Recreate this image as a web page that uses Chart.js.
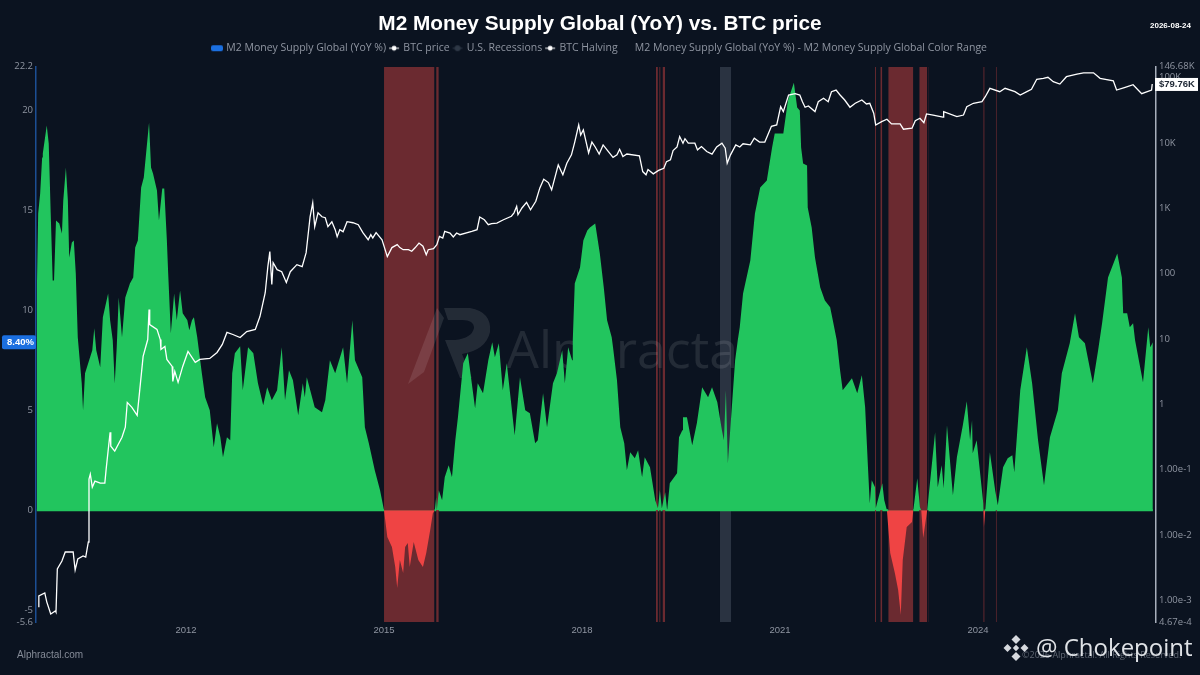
<!DOCTYPE html>
<html lang="en">
<head>
<meta charset="UTF-8">
<title>M2 Money Supply Global (YoY) vs. BTC price</title>
<style>
  html, body { margin: 0; padding: 0; background: #0b1320; }
  canvas { display: block; }
</style>
<script src="https://cdn.jsdelivr.net/npm/chart.js@4"></script>
</head>
<body>
<canvas id="chart" width="1200" height="675"></canvas>
<script>
// M2 YoY % (decimal year, value)
const m2Years = [
  2009.74,2009.76,2009.79,2009.82,2009.83,2009.89,2009.92,2009.95,2009.98,2010.00,
  2010.03,2010.08,2010.12,2010.14,2010.18,2010.21,2010.23,2010.27,2010.30,2010.33,
  2010.36,2010.42,2010.44,2010.47,2010.58,2010.61,2010.64,2010.70,2010.74,2010.82,
  2010.85,2010.89,2010.92,2010.95,2010.98,2011.03,2011.08,2011.15,2011.20,2011.23,
  2011.27,2011.32,2011.36,2011.44,2011.47,2011.50,2011.56,2011.59,2011.64,2011.67,
  2011.71,2011.73,2011.77,2011.82,2011.86,2011.91,2011.95,2012.02,2012.05,2012.09,
  2012.12,2012.17,2012.24,2012.29,2012.36,2012.42,2012.47,2012.52,2012.56,2012.62,
  2012.67,2012.70,2012.74,2012.82,2012.86,2012.94,2013.02,2013.09,2013.17,2013.23,
  2013.30,2013.38,2013.45,2013.50,2013.56,2013.62,2013.70,2013.77,2013.80,2013.83,
  2013.95,2014.06,2014.11,2014.18,2014.26,2014.38,2014.44,2014.52,2014.56,2014.67,
  2014.71,2014.77,2014.86,2014.94,2015.00,2015.05,2015.12,2015.17,2015.20,2015.24,
  2015.29,2015.32,2015.36,2015.39,2015.45,2015.52,2015.59,2015.64,2015.70,2015.74,
  2015.77,2015.79,2015.80,2015.83,2015.88,2015.92,2015.98,2016.03,2016.08,2016.12,
  2016.20,2016.27,2016.38,2016.42,2016.50,2016.58,2016.64,2016.68,2016.74,2016.80,
  2016.86,2016.98,2017.06,2017.14,2017.21,2017.29,2017.33,2017.41,2017.47,2017.56,
  2017.62,2017.70,2017.74,2017.79,2017.85,2017.86,2017.89,2017.97,2018.02,2018.08,
  2018.12,2018.20,2018.27,2018.33,2018.38,2018.45,2018.47,2018.53,2018.58,2018.64,
  2018.68,2018.73,2018.80,2018.85,2018.91,2018.95,2019.03,2019.11,2019.15,2019.18,
  2019.21,2019.26,2019.29,2019.33,2019.44,2019.47,2019.52,2019.53,2019.59,2019.67,
  2019.74,2019.82,2019.91,2019.97,2020.05,2020.12,2020.15,2020.18,2020.21,2020.27,
  2020.32,2020.36,2020.39,2020.44,2020.55,2020.62,2020.70,2020.80,2020.88,2020.92,
  2021.05,2021.12,2021.21,2021.26,2021.30,2021.32,2021.35,2021.41,2021.42,2021.48,
  2021.53,2021.61,2021.68,2021.76,2021.80,2021.86,2021.91,2021.95,2022.09,2022.17,
  2022.24,2022.29,2022.33,2022.36,2022.39,2022.44,2022.45,2022.55,2022.58,2022.62,
  2022.67,2022.74,2022.79,2022.83,2022.86,2022.92,2023.00,2023.02,2023.08,2023.12,
  2023.14,2023.17,2023.23,2023.35,2023.39,2023.45,2023.48,2023.53,2023.62,2023.68,
  2023.77,2023.83,2023.88,2023.91,2023.92,2023.98,2024.08,2024.09,2024.11,2024.18,
  2024.26,2024.30,2024.38,2024.45,2024.52,2024.55,2024.64,2024.74,2024.82,2024.91,
  2025.00,2025.09,2025.21,2025.27,2025.39,2025.47,2025.53,2025.62,2025.74,2025.82,
  2025.88,2025.97,2026.11,2026.18,2026.20,2026.26,2026.30,2026.35,2026.38,2026.50,
  2026.58,2026.61,2026.65
];
const m2Values = [
  11.0,14.85,15.85,17.65,17.85,19.25,18.35,14.85,11.5,11.5,
  14.5,14.35,13.85,15.5,17.15,15.5,12.65,13.4,13.5,11.85,
  8.65,6.35,5.0,6.85,8.0,9.1,8.0,7.15,9.65,10.85,
  9.5,8.5,6.35,8.15,10.65,8.65,10.65,11.35,11.65,13.15,
  13.5,16.15,16.65,19.4,17.15,16.85,16.0,14.5,16.1,16.1,
  13.5,11.85,8.85,10.85,9.5,11.0,9.85,9.5,9.0,9.5,
  9.65,8.65,6.85,5.65,5.0,3.15,4.35,3.65,2.65,3.65,
  3.5,6.85,7.85,8.2,6.0,8.15,7.85,6.35,5.25,6.15,
  5.5,6.0,8.15,5.5,7.0,6.5,4.75,6.35,5.65,6.65,
  5.15,4.9,5.5,7.5,6.85,8.15,6.35,9.5,7.5,6.65,
  4.15,3.35,2.0,1.0,0,-1.35,-1.85,-2.85,-3.9,-2.5,
  -3.15,-1.85,-1.65,-2.85,-1.6,-2.5,-2.85,-2.15,-1.0,-0.15,
  0,0.65,0,1.0,0.5,1.65,2.25,1.65,3.5,4.65,
  7.35,7.85,5.1,6.35,5.85,7.5,8.4,7.65,8.35,6.0,
  7.35,3.75,6.65,5.0,4.85,3.35,3.5,5.85,4.15,6.35,
  6.85,8.0,6.35,8.15,7.5,8.5,11.35,12.15,13.5,14.0,
  14.15,14.35,12.85,11.15,9.5,8.65,8.15,6.5,4.15,3.35,
  2.0,2.9,2.6,3.0,1.65,2.65,2.15,0.5,0.1,1.0,
  0.1,0.9,0,1.35,1.85,3.65,4.0,4.65,4.65,3.25,
  4.35,6.15,5.65,6.15,5.4,4.0,3.5,6.0,2.35,5.15,
  7.5,8.5,9.15,10.85,12.5,14.85,16.15,16.5,18.15,18.85,
  18.85,20.5,21.4,20.15,20.0,18.15,17.35,17.25,15.15,14.15,
  12.65,11.15,10.5,10.15,9.5,8.5,7.0,6.0,6.6,5.85,
  6.75,5.15,2.35,0.35,1.5,1.15,0.1,1.35,0.5,0,
  -2.15,-3.15,-4.0,-5.25,-2.5,-0.85,-0.6,0,1.6,0.15,
  0,-1.4,0,3.9,1.15,2.25,1.1,4.25,0.75,2.65,
  4.25,5.45,3.5,4.5,2.85,3.5,0.35,-0.85,0,2.9,
  1.0,0.25,2.15,2.6,2.75,1.9,6.0,8.15,6.35,3.5,
  1.25,3.65,5.0,6.85,8.35,9.85,8.65,8.35,6.35,8.0,
  9.35,11.65,12.85,11.65,9.85,9.85,9.15,9.35,8.5,6.4,
  9.15,8.15,8.4
];

// BTC price in USD
const btcYears = [
  2009.76,2009.77,2009.86,2009.89,2009.95,2010.02,2010.03,2010.05,2010.12,2010.17,
  2010.29,2010.32,2010.36,2010.44,2010.48,2010.52,2010.53,2010.55,2010.58,2010.62,
  2010.70,2010.77,2010.79,2010.85,2010.86,2010.92,2011.03,2011.08,2011.11,2011.18,
  2011.26,2011.30,2011.35,2011.42,2011.44,2011.45,2011.56,2011.61,2011.62,2011.68,
  2011.71,2011.79,2011.80,2011.83,2011.88,2011.95,2012.03,2012.14,2012.21,2012.36,
  2012.47,2012.55,2012.62,2012.71,2012.82,2012.92,2013.05,2013.12,2013.20,2013.24,
  2013.27,2013.30,2013.32,2013.38,2013.45,2013.52,2013.58,2013.68,2013.76,2013.82,
  2013.88,2013.92,2013.95,2014.00,2014.06,2014.11,2014.15,2014.21,2014.26,2014.29,
  2014.33,2014.38,2014.44,2014.53,2014.61,2014.68,2014.76,2014.80,2014.83,2014.88,
  2014.97,2015.05,2015.12,2015.20,2015.24,2015.29,2015.37,2015.42,2015.47,2015.53,
  2015.59,2015.64,2015.67,2015.75,2015.80,2015.84,2015.89,2015.92,2016.00,2016.05,
  2016.10,2016.15,2016.33,2016.41,2016.45,2016.52,2016.58,2016.63,2016.71,2016.81,
  2016.93,2016.97,2017.01,2017.03,2017.09,2017.16,2017.22,2017.30,2017.36,2017.42,
  2017.49,2017.54,2017.58,2017.64,2017.71,2017.77,2017.84,2017.89,2017.95,2017.98,
  2018.02,2018.10,2018.15,2018.20,2018.26,2018.32,2018.40,2018.47,2018.53,2018.57,
  2018.62,2018.68,2018.87,2018.92,2018.97,2019.00,2019.08,2019.16,2019.24,2019.28,
  2019.34,2019.38,2019.44,2019.48,2019.53,2019.56,2019.61,2019.71,2019.75,2019.81,
  2019.89,2019.97,2020.04,2020.12,2020.17,2020.20,2020.25,2020.33,2020.39,2020.44,
  2020.55,2020.61,2020.69,2020.77,2020.87,2020.95,2021.01,2021.05,2021.13,2021.23,
  2021.30,2021.34,2021.38,2021.43,2021.53,2021.58,2021.66,2021.73,2021.78,2021.85,
  2021.91,2021.98,2022.06,2022.14,2022.24,2022.31,2022.36,2022.42,2022.45,2022.54,
  2022.62,2022.69,2022.82,2022.87,2023.00,2023.05,2023.12,2023.18,2023.22,2023.32,
  2023.47,2023.48,2023.68,2023.78,2023.83,2023.93,2024.06,2024.11,2024.18,2024.33,
  2024.41,2024.56,2024.64,2024.74,2024.81,2024.89,2024.99,2025.06,2025.14,2025.24,
  2025.34,2025.50,2025.60,2025.75,2025.85,2026.05,2026.10,2026.23,2026.35,2026.48,
  2026.63,2026.64
];
const btcPrices = [
  0.0008,0.00117,0.0013,0.00095,0.00062,0.00069,0.00066,0.00303,0.00401,0.0055,
  0.0055,0.00292,0.0043,0.00478,0.00461,0.00782,0.0716,0.0853,0.0541,0.0667,
  0.0622,0.0622,0.102,0.374,0.229,0.192,0.313,0.446,1.07,0.9,
  0.68,1.69,5.4,9.8,28.2,16.6,14,9.8,6.9,7.7,
  4.86,3.8,2.24,3.19,2.17,3.8,6.44,4.38,4.86,5.04,
  6.22,8.24,12.6,11.7,10.5,13,14,22,51,128,
  217,68,147,115,107,73,107,137,128,209,
  741,1210,522,854,741,716,522,622,470,367,
  470,438,622,600,560,423,330,394,351,423,
  330,182,250,277,250,232,232,220,248,293,
  262,195,232,240,277,372,351,443,418,363,
  418,394,443,470,734,667,560,580,594,667,
  755,850,1070,796,1010,1230,948,1280,2030,2780,
  2470,1910,2720,4610,3250,4880,6560,10300,18800,13200,
  15800,7000,10300,8650,6750,9320,7370,6020,6560,8000,
  6200,6750,6330,3640,3250,3900,3360,3800,4080,5170,
  5500,7640,8650,12500,9900,11600,9900,9900,7820,8800,
  7370,6750,8650,9900,8300,4880,6560,9320,8650,9700,
  9320,11800,10300,10300,17900,18800,35800,30100,54000,56600,
  54000,42700,35100,36700,30100,42700,48100,42700,60700,64400,
  54000,45300,35100,40400,45300,39400,40400,28400,18800,21100,
  23000,19500,19500,16200,16800,21900,23800,20400,27700,26700,
  24700,30100,25200,26700,35800,40400,42700,50900,68400,60700,
  68400,60700,54000,60700,66100,94000,97300,101000,86300,79400,
  103000,113000,118000,118000,97300,89300,64400,70800,77600,56600,
  64400,79760
];

// periods shaded on the chart
const redStarts = [2015.00,2015.79,2019.12,2019.17,2019.22,2022.44,2022.52,2022.64,2023.11,2023.24,2024.08,2024.27];
const redEnds   = [2015.765,2015.83,2019.15,2019.19,2019.26,2022.455,2022.55,2023.02,2023.23,2023.25,2024.10,2024.285];
const recessionStarts = [2020.09];
const recessionEnds   = [2020.26];

const xTicks = [2012, 2015, 2018, 2021, 2024];
const leftTicks = [22.2, 20, 15, 10, 5, 0, -5, -5.6];
const rightTicks = [146680, 100000, 10000, 1000, 100, 10, 1, 0.1, 0.01, 0.001, 0.000467];
const rightLabels = ['146.68K','100K','10K','1K','100','10','1','1.00e-1','1.00e-2','1.00e-3','4.67e-4'];
const legendNames = ['M2 Money Supply Global (YoY %)', 'BTC price', 'U.S. Recessions', 'BTC Halving', 'M2 Money Supply Global (YoY %) - M2 Money Supply Global Color Range'];

const lastM2 = 8.40;
const lastBtc = 79760;

const LEFT_MAX = 22.2, LEFT_MIN = -5.6;
const GREEN = '#22c55e', RED = '#ef4444', BAND_RED = '#6b2a30', BAND_GREY = '#2a3341';
const TEXT = '#8f95a1';

function pairs(xs, ys) {
  return xs.map((x, i) => ({ x: x, y: ys[i] }));
}
// flat top segments with a gap between them, filled down to the axis bottom
function bandPoints(starts, ends) {
  const out = [];
  starts.forEach((s, i) => {
    out.push({ x: s, y: LEFT_MAX }, { x: ends[i], y: LEFT_MAX }, { x: ends[i] + 0.001, y: null });
  });
  return out;
}
// zero line of the area, broken where the red periods sit
function zeroLine() {
  const out = [{ x: m2Years[0], y: 0 }];
  redStarts.forEach((s, i) => {
    out.push({ x: s, y: 0 }, { x: s + 0.001, y: null }, { x: redEnds[i], y: 0 });
  });
  out.push({ x: m2Years[m2Years.length - 1], y: 0 });
  return out;
}

function glyph(draw) {
  const c = document.createElement('canvas');
  c.width = 12; c.height = 8;
  draw(c.getContext('2d'));
  return c;
}
const lineDot = g => {
  g.strokeStyle = '#fff'; g.fillStyle = '#fff';
  g.beginPath(); g.moveTo(1, 4); g.lineTo(11, 4); g.stroke();
  g.beginPath(); g.arc(6, 4, 2.4, 0, 7); g.fill();
};
const glyphs = [
  glyph(g => { g.fillStyle = '#1b6fe0'; g.beginPath(); g.roundRect(0, 1, 12, 6, 2); g.fill(); }),
  glyph(lineDot),
  glyph(g => { g.fillStyle = '#2f3846'; g.beginPath(); g.arc(6, 4, 3, 0, 7); g.fill(); g.fillRect(1, 3.5, 10, 1); }),
  glyph(lineDot),
  glyph(() => {})
];

function drawWatermark(ctx) {
  ctx.save();
  ctx.fillStyle = 'rgba(255,255,255,0.10)';
  ctx.font = '52px "Open Sans"';
  ctx.textAlign = 'left';
  ctx.textBaseline = 'alphabetic';
  ctx.fillText('Alphractal', 506, 368);
  // A and P of the logo
  ctx.beginPath();
  ctx.moveTo(408, 384); ctx.lineTo(437, 308); ctx.lineTo(444, 318); ctx.lineTo(424, 372);
  ctx.closePath(); ctx.fill();
  ctx.beginPath();
  ctx.moveTo(444, 308); ctx.lineTo(470, 308);
  ctx.quadraticCurveTo(492, 312, 490, 332); ctx.quadraticCurveTo(486, 350, 462, 354);
  ctx.lineTo(472, 378); ctx.lineTo(460, 378); ctx.lineTo(445, 340); ctx.lineTo(455, 340);
  ctx.quadraticCurveTo(472, 338, 474, 328); ctx.quadraticCurveTo(474, 320, 462, 320);
  ctx.lineTo(448, 320);
  ctx.closePath(); ctx.fill();
  ctx.restore();
}

const overlay = {
  id: 'overlay',
  // the watermark sits above the shaded periods and below the area
  afterDatasetDraw(chart, args) {
    if (args.index === 3) drawWatermark(chart.ctx);
  },
  afterDraw(chart) {
    const ctx = chart.ctx;
    const yL = chart.scales.y.getPixelForValue(lastM2);
    const yR = chart.scales.y1.getPixelForValue(lastBtc);
    ctx.save();
    ctx.textBaseline = 'middle';

    // current value flags
    ctx.fillStyle = '#1b6fe0';
    ctx.beginPath(); ctx.roundRect(2, yL - 7, 34, 14, 2); ctx.fill();
    ctx.fillStyle = '#fff';
    ctx.font = 'bold 9.5px "Liberation Sans"';
    ctx.textAlign = 'right';
    ctx.fillText(lastM2.toFixed(2) + '%', 34, yL + 0.5);

    ctx.fillStyle = '#fff';
    ctx.fillRect(1155, yR - 6, 43, 13);
    ctx.fillStyle = '#222b38';
    ctx.textAlign = 'left';
    ctx.fillText('$79.76K', 1159, yR + 0.5);

    // corner texts
    ctx.fillStyle = '#fff';
    ctx.font = 'bold 8px "Liberation Sans"';
    ctx.fillText('2026-08-24', 1150, 26);
    ctx.fillStyle = '#868c98';
    ctx.font = '10px "Liberation Sans"';
    ctx.fillText('Alphractal.com', 17, 655);
    ctx.font = '9px "Open Sans"';
    ctx.fillStyle = '#5f6672';
    ctx.fillText('©2026 Alphractal. All Rights Reserved.', 1022, 655);

    // overlaid repost mark
    ctx.fillStyle = '#dfe2e6';
    ctx.font = '24px "Open Sans"';
    ctx.fillText('@ Chokepoint', 1036, 649);
    const cx = 1016, cy = 648;
    ctx.fillStyle = '#d6d9de';
    [[0, -8.5, 4.5], [-8.5, 0, 4], [8.5, 0, 4], [0, 8.5, 4.5], [0, 0, 3.2]].forEach(d => {
      ctx.beginPath();
      ctx.moveTo(cx + d[0], cy + d[1] - d[2]);
      ctx.lineTo(cx + d[0] + d[2], cy + d[1]);
      ctx.lineTo(cx + d[0], cy + d[1] + d[2]);
      ctx.lineTo(cx + d[0] - d[2], cy + d[1]);
      ctx.closePath();
      ctx.fill();
    });
    ctx.restore();
  }
};

new Chart(document.getElementById('chart'), {
  type: 'line',
  plugins: [overlay],
  data: {
    datasets: [
      { label: 'BTC price', data: pairs(btcYears, btcPrices), yAxisID: 'y1', borderColor: '#fff', borderWidth: 1.3, order: 1 },
      { label: 'zero', data: zeroLine(), yAxisID: 'y', borderColor: GREEN, borderWidth: 2, order: 2 },
      { label: legendNames[0], data: pairs(m2Years, m2Values), yAxisID: 'y', borderWidth: 0,
        fill: { target: 'origin', above: GREEN, below: RED }, order: 3 },
      { label: 'red periods', data: bandPoints(redStarts, redEnds), yAxisID: 'y', borderWidth: 0,
        backgroundColor: BAND_RED, fill: { value: LEFT_MIN }, order: 4 },
      { label: legendNames[2], data: bandPoints(recessionStarts, recessionEnds), yAxisID: 'y', borderWidth: 0,
        backgroundColor: BAND_GREY, fill: { value: LEFT_MIN }, order: 5 }
    ]
  },
  options: {
    responsive: false,
    animation: false,
    elements: { point: { radius: 0 }, line: { tension: 0 } },
    plugins: {
      tooltip: { enabled: false },
      title: {
        display: true,
        text: 'M2 Money Supply Global (YoY) vs. BTC price',
        color: '#fff',
        font: { family: '"Liberation Sans"', size: 20.8, weight: 'bold' },
        padding: { top: 12, bottom: 2 }
      },
      // empty spacer between legend and plot
      subtitle: {
        display: true,
        text: ' ',
        weight: 500,
        font: { size: 1 },
        padding: { top: 0, bottom: 2 }
      },
      legend: {
        display: true,
        position: 'top',
        labels: {
          color: TEXT,
          font: { family: '"Open Sans"', size: 10.5 },
          usePointStyle: true,
          boxWidth: 8,
          boxHeight: 8,
          padding: 4,
          generateLabels: () => legendNames.map((name, i) => ({
            text: name,
            fontColor: TEXT,
            pointStyle: glyphs[i],
            datasetIndex: i,
            lineWidth: 0,
            hidden: false
          }))
        }
      }
    },
    scales: {
      x: {
        type: 'linear',
        min: 2009.727,
        max: 2026.697,
        grid: { display: false, drawTicks: false, tickLength: 0 },
        border: { display: false },
        afterBuildTicks: scale => { scale.ticks = xTicks.map(v => ({ value: v })); },
        afterFit: scale => { scale.height = 53; },
        ticks: {
          color: TEXT,
          font: { family: '"Liberation Sans"', size: 9.5 },
          padding: 3,
          maxRotation: 0,
          autoSkip: false,
          callback: v => String(v)
        }
      },
      y: {
        type: 'linear',
        position: 'left',
        min: LEFT_MIN,
        max: LEFT_MAX,
        grid: { display: false, drawTicks: false, tickLength: 0 },
        border: { color: '#1c4f94', width: 1.5 },
        afterBuildTicks: scale => { scale.ticks = leftTicks.map(v => ({ value: v })); },
        afterFit: scale => { scale.width = 36; },
        ticks: {
          color: TEXT,
          font: { family: '"Open Sans"', size: 9.5 },
          padding: 3,
          autoSkip: false,
          callback: v => String(v)
        }
      },
      y1: {
        type: 'logarithmic',
        position: 'right',
        min: 0.000467,
        max: 146680,
        grid: { display: false, drawTicks: false, tickLength: 0 },
        border: { color: '#a8afbb', width: 1.5 },
        afterBuildTicks: scale => { scale.ticks = rightTicks.map(v => ({ value: v })); },
        afterFit: scale => { scale.width = 44; },
        ticks: {
          color: TEXT,
          font: { family: '"Open Sans"', size: 9.5 },
          padding: 3,
          autoSkip: false,
          callback: (v, i) => rightLabels[i]
        }
      }
    }
  }
});
</script>
</body>
</html>
